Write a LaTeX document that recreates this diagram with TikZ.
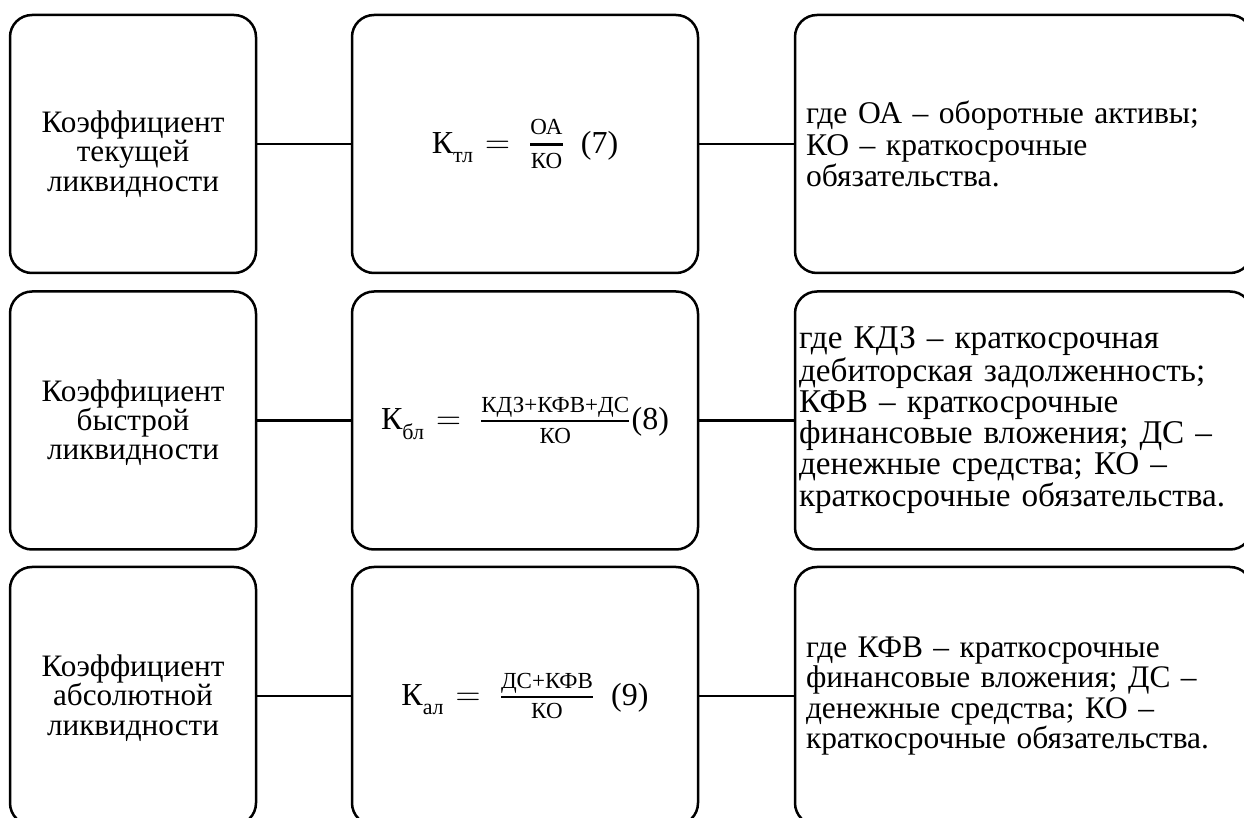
\documentclass[tikz,border=0pt]{standalone}
\usepackage{fontspec}
\usepackage{amsmath}
\setmainfont{Liberation Serif}
\newcommand\kfrm[5]{{\fontsize{16}{19}\selectfont К\raisebox{-0.3em}{\fontsize{11}{11}\selectfont #1}\hspace{6pt}$=$\hspace{9pt}$\genfrac{}{}{#5}{}{\mbox{\fontsize{11.5}{12}\selectfont\rule[-2.7pt]{0pt}{2.7pt}#2}}{\mbox{\fontsize{11.5}{12}\selectfont\rule{0pt}{9.7pt}#3}}$#4}}
\begin{document}
\begin{tikzpicture}[x=0.5pt,y=-0.5pt,
  box/.style={draw,line width=1.25pt,rounded corners=11pt,inner sep=0pt},
  lbox/.style={box,minimum width=123pt,minimum height=129pt},
  ltext/.style={align=center,inner sep=0pt,font=\fontsize{15.6}{14.6}\selectfont},
  mbox/.style={box,minimum width=173pt,minimum height=129pt},
  rbox/.style={box,minimum width=228.5pt,minimum height=129pt,align=left},
  link/.style={line width=1.25pt}]
\useasboundingbox (0,0) rectangle (1244,818);
\clip (0,0) rectangle (1244,818);
\fill[white] (0,0) rectangle (1244,818);
% row 1
\node[lbox] (L1) at (133,144) {};
\node[ltext] (T1) at ([yshift=-5pt]L1.center) {Коэффициент\\текущей\\ликвидности};
\node[mbox] (M1) at (525,144) {\kfrm{тл}{ОА}{КО}{\hspace{8pt}(7)}{1.6pt}};
\node[rbox,text width=217.5pt,inner xsep=5.5pt,font=\fontsize{15.8}{15.8}\selectfont] (R1) at (1023.5,144) {где ОА – оборотные активы;\\КО – краткосрочные\\обязательства.};
% row 2
\node[lbox] (L2) at (133,420.5) {};
\node[ltext] (T2) at ([yshift=-1pt]L2.center) {Коэффициент\\быстрой\\ликвидности};
\node[mbox] (M2) at (525,420.5) {\kfrm{бл}{КДЗ+КФВ+ДС}{КО}{(8)}{1pt}};
\node[rbox,text width=224.5pt,inner xsep=2pt,font=\fontsize{16.6}{15.4}\selectfont] (R2) at (1023.5,420.5) {где КДЗ – краткосрочная\\дебиторская задолженность;\\КФВ – краткосрочные\\финансовые вложения; ДС –\\денежные средства; КО –\\краткосрочные обязательства.};
% row 3
\node[lbox] (L3) at (133,696) {};
\node[ltext] (T3) at ([yshift=-1pt]L3.center) {Коэффициент\\абсолютной\\ликвидности};
\node[mbox] (M3) at (525,696) {\kfrm{ал}{ДС+КФВ}{КО}{\hspace{8pt}(9)}{1pt}};
\node[rbox,text width=217.5pt,inner xsep=5.5pt,font=\fontsize{15.7}{15.3}\selectfont] (R3) at (1023.5,696) {где КФВ – краткосрочные\\финансовые вложения; ДС –\\денежные средства; КО –\\краткосрочные обязательства.};
% connectors
\draw[link] (L1.east) -- (M1.west);
\draw[link] (M1.east) -- (R1.west);
\draw[link] (L2.east) -- (M2.west);
\draw[link] (M2.east) -- (R2.west);
\draw[link] (L3.east) -- (M3.west);
\draw[link] (M3.east) -- (R3.west);
\end{tikzpicture}
\end{document}
